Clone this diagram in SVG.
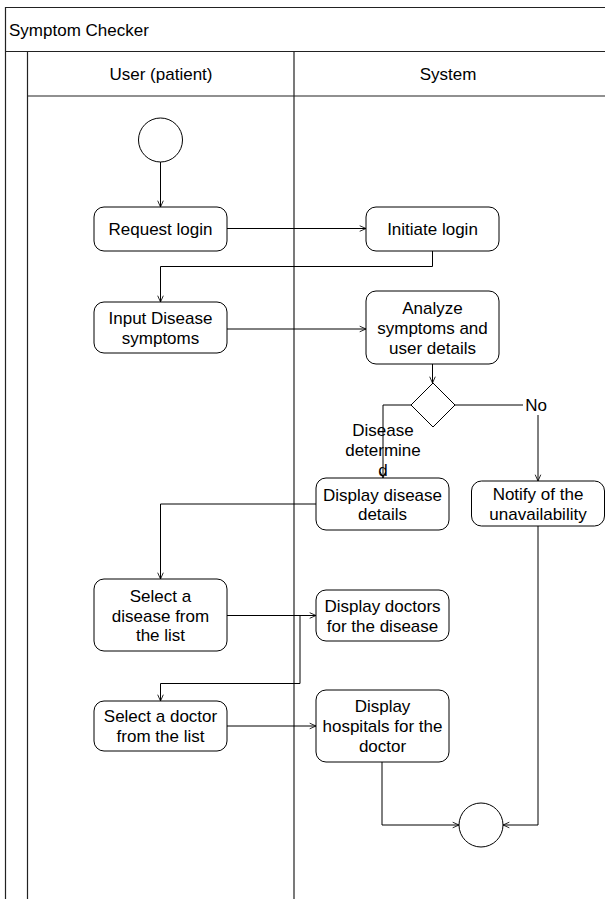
<svg xmlns="http://www.w3.org/2000/svg" width="605" height="899" viewBox="0 0 605 899">
<style>
  text { font-family: "Liberation Sans", Arial, sans-serif; font-size: 17px; fill: #000; }
  .c { text-anchor: middle; }
  .pool { fill: none; stroke: #222; stroke-width: 1.2; }
  .act { fill: #fff; stroke: #000; stroke-width: 1; }
  .edge { fill: none; stroke: #000; stroke-width: 1; marker-end: url(#arr); }
</style>
<defs>
  <marker id="arr" viewBox="0 0 10 10" refX="10" refY="5" markerWidth="7" markerHeight="8" markerUnits="userSpaceOnUse" orient="auto">
    <path d="M1,1 L10,5 L1,9" fill="none" stroke="#000" stroke-width="1.2"/>
  </marker>
</defs>
<rect width="605" height="899" fill="#fff"/>

<g id="pool">
  <path class="pool" d="M5.5,899 V7.5 H605 M5.5,51.5 H605 M27.5,899 V51.5 M27.5,96 H605 M294,899 V51.5"/>
  <text x="9" y="35.5">Symptom Checker</text>
  <text class="c" x="161" y="80">User (patient)</text>
  <text class="c" x="448" y="80">System</text>
</g>

<g id="connectors">
  <path class="edge" d="M160.5,162 V207"/>
  <path class="edge" d="M227,228.5 H366"/>
  <path class="edge" d="M432.5,251 V266.5 H160.5 V302"/>
  <path class="edge" d="M227,329 H366"/>
  <path class="edge" d="M432.5,364 V383"/>
  <path class="edge" d="M411,405 H383 V478"/>
  <path class="edge" d="M455,405 H538 V481"/>
  <path class="edge" d="M316,504 H160.5 V579"/>
  <path class="edge" d="M227,615.5 H316"/>
  <path class="edge" d="M316,615.5 H300 V683.5 H160.5 V701"/>
  <path class="edge" d="M227,726 H316"/>
  <path class="edge" d="M382,762 V825 H459"/>
  <path class="edge" d="M538,526 V825 H503"/>
  <rect x="523" y="395" width="26" height="20" fill="#fff"/>
  <text class="c" x="536" y="411">No</text>
  <text class="c" x="383" y="436">Disease</text>
  <text class="c" x="383" y="456">determine</text>
  <text class="c" x="383" y="476">d</text>
</g>

<g id="start">
  <circle class="act" cx="160.5" cy="140" r="22"/>
</g>

<g id="request-login">
  <rect class="act" x="94" y="207" width="133" height="44" rx="10"/>
  <text class="c" x="160.5" y="234.5">Request login</text>
</g>

<g id="initiate-login">
  <rect class="act" x="366" y="207" width="133" height="44" rx="10"/>
  <text class="c" x="432.5" y="234.5">Initiate login</text>
</g>

<g id="input-symptoms">
  <rect class="act" x="94" y="302" width="133" height="51" rx="10"/>
  <text class="c" x="160.5" y="323.5">Input Disease</text>
  <text class="c" x="160.5" y="343.5">symptoms</text>
</g>

<g id="analyze">
  <rect class="act" x="366" y="291" width="133" height="73" rx="10"/>
  <text class="c" x="432.5" y="313.5">Analyze</text>
  <text class="c" x="432.5" y="333.5">symptoms and</text>
  <text class="c" x="432.5" y="353.5">user details</text>
</g>

<g id="decision">
  <path class="act" d="M433,383 L455,405 L433,427 L411,405 Z"/>
</g>

<g id="display-disease">
  <rect class="act" x="316" y="478" width="133" height="52" rx="10"/>
  <text class="c" x="382.5" y="500.5">Display disease</text>
  <text class="c" x="382.5" y="520">details</text>
</g>

<g id="notify">
  <rect class="act" x="471.5" y="481" width="133" height="45" rx="10"/>
  <text class="c" x="538" y="499.5">Notify of the</text>
  <text class="c" x="538" y="519.5">unavailability</text>
</g>

<g id="select-disease">
  <rect class="act" x="94" y="579" width="133" height="72" rx="10"/>
  <text class="c" x="160.5" y="601.5">Select a</text>
  <text class="c" x="160.5" y="621.5">disease from</text>
  <text class="c" x="160.5" y="641">the list</text>
</g>

<g id="display-doctors">
  <rect class="act" x="316" y="590" width="133" height="51" rx="10"/>
  <text class="c" x="382.5" y="611.5">Display doctors</text>
  <text class="c" x="382.5" y="631.5">for the disease</text>
</g>

<g id="select-doctor">
  <rect class="act" x="94" y="701" width="133" height="50" rx="10"/>
  <text class="c" x="160.5" y="722">Select a doctor</text>
  <text class="c" x="160.5" y="742">from the list</text>
</g>

<g id="display-hospitals">
  <rect class="act" x="316" y="690" width="133" height="72" rx="10"/>
  <text class="c" x="382.5" y="712">Display</text>
  <text class="c" x="382.5" y="732">hospitals for the</text>
  <text class="c" x="382.5" y="752">doctor</text>
</g>

<g id="end">
  <circle class="act" cx="481" cy="825" r="22"/>
</g>
</svg>
